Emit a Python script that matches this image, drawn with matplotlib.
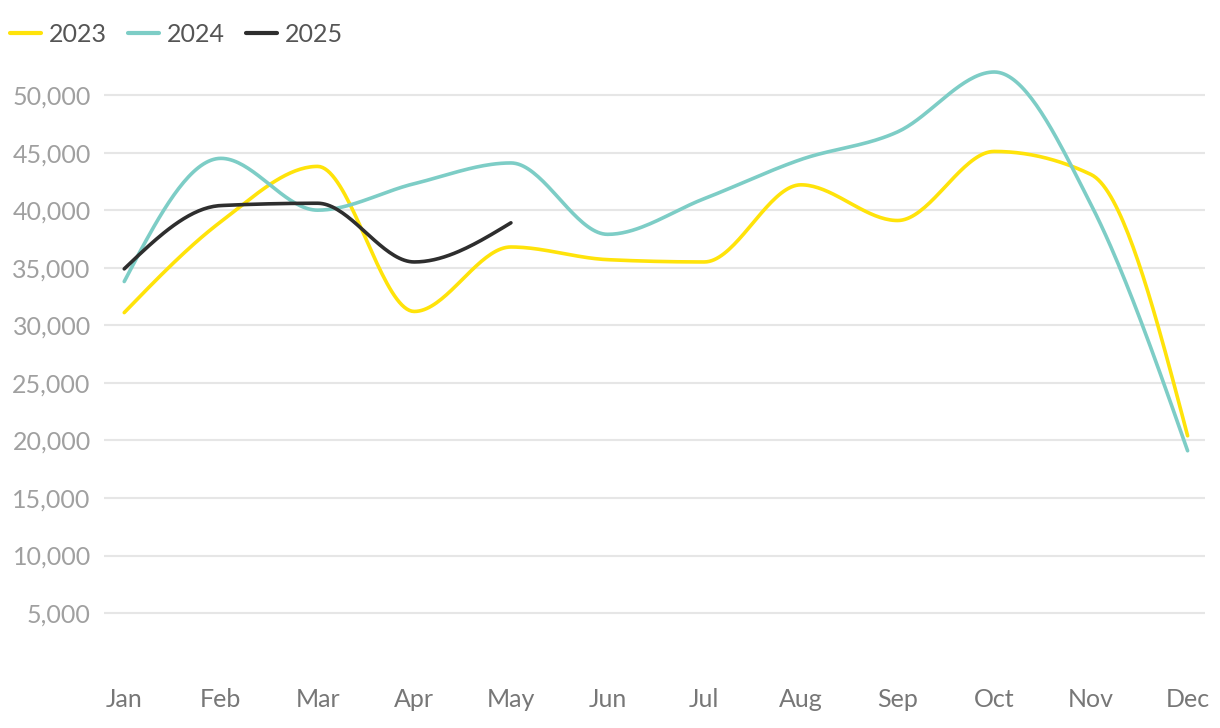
import numpy as np
import matplotlib.pyplot as plt

plt.rcParams['font.family'] = ['Lato', 'DejaVu Sans']

months = ["Jan", "Feb", "Mar", "Apr", "May", "Jun",
          "Jul", "Aug", "Sep", "Oct", "Nov", "Dec"]

sales_2023 = [31100, 39000, 43800, 31200, 36800, 35700,
              35500, 42200, 39100, 45100, 43100, 20400]
sales_2024 = [33800, 44500, 40000, 42300, 44100, 37900,
              41000, 44400, 46800, 52000, 40500, 19100]
sales_2025 = [34900, 40400, 40600, 35500, 38900]

y_ticks = list(range(5000, 50001, 5000))


def monotone(x, y, n=40):
    # d3 style monotoneX curve
    x = np.asarray(x, float)
    y = np.asarray(y, float)
    h = np.diff(x)
    s = np.diff(y) / h
    t = np.zeros(len(x))
    for i in range(1, len(x) - 1):
        p = (s[i - 1] * h[i] + s[i] * h[i - 1]) / (h[i - 1] + h[i])
        t[i] = (np.sign(s[i - 1]) + np.sign(s[i])) * min(abs(s[i - 1]), abs(s[i]), 0.5 * abs(p))
    t[0] = (3 * s[0] - t[1]) / 2
    t[-1] = (3 * s[-1] - t[-2]) / 2
    xs, ys = [], []
    for i in range(len(x) - 1):
        u = np.linspace(0, 1, n)
        h00 = 2 * u**3 - 3 * u**2 + 1
        h10 = u**3 - 2 * u**2 + u
        h01 = -2 * u**3 + 3 * u**2
        h11 = u**3 - u**2
        xs.append(x[i] + u * h[i])
        ys.append(h00 * y[i] + h10 * h[i] * t[i] + h01 * y[i + 1] + h11 * h[i] * t[i + 1])
    return np.concatenate(xs), np.concatenate(ys)


fig = plt.figure(figsize=(12.2, 7.28), dpi=100)
ax = fig.add_axes([0.0852, 0.0788, 0.9025, 0.8381])

series = [("2023", sales_2023, "#ffe30a"),
          ("2024", sales_2024, "#7dcdc6"),
          ("2025", sales_2025, "#2e2e2e")]

for name, vals, col in series:
    xx, yy = monotone(np.arange(len(vals)), vals)
    ax.plot(xx, yy, color=col, lw=2.6, solid_capstyle="round", label=name)

ax.set_xlim(-0.21, 11.18)
ax.set_ylim(0, 53000)
ax.set_xticks(range(len(months)))
ax.set_xticklabels(months)
ax.set_yticks(y_ticks)
ax.set_yticklabels([f"{v:,}" for v in y_ticks])
ax.tick_params(axis="y", length=0, pad=9.5, labelsize=18, labelcolor="#a0a0a0")
ax.tick_params(axis="x", length=0, pad=12.5, labelsize=18, labelcolor="#777777")
ax.grid(axis="y", color="#e6e6e6", lw=1.5)
ax.set_axisbelow(True)
for sp in ax.spines.values():
    sp.set_visible(False)

leg = ax.legend(loc="upper left", bbox_to_anchor=(0.0082, 0.969),
                bbox_transform=fig.transFigure, ncol=3, frameon=False,
                fontsize=18, handlelength=1.24, handletextpad=0.32,
                columnspacing=0.84, borderpad=0, borderaxespad=0)
for txt in leg.get_texts():
    txt.set_color("#555555")
for ln in leg.get_lines():
    ln.set_linewidth(3)

fig.savefig("out.png", dpi=100)
